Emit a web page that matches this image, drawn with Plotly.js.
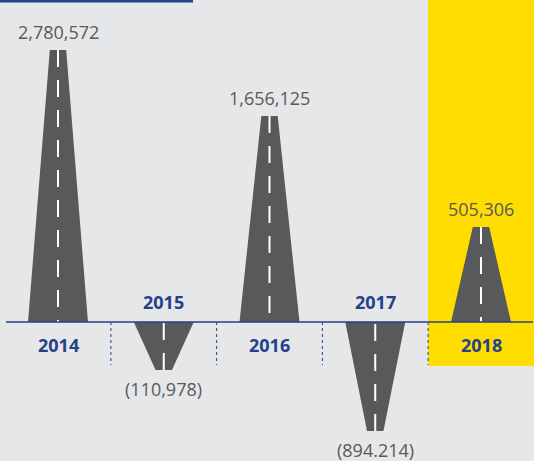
<!DOCTYPE html>
<html>
<head>
<meta charset="utf-8">
<script src="https://cdn.plot.ly/plotly-3.0.1.min.js"></script>
<style>html,body{margin:0;padding:0;background:#e6e7e8;}#chart{width:534px;height:461px;}</style>
</head>
<body>
<div id="chart"></div>
<script>
// ---- data ----
const years = ['2014', '2015', '2016', '2017', '2018'];
const values = [2780572, -110978, 1656125, -894214, 505306];
const valueLabels = ['2,780,572', '(110,978)', '1,656,125', '(894.214)', '505,306'];
// drawn road lengths (the source is not drawn to scale)
const roadLength = [272, -48, 206, -109, 95];

// ---- styles ----
const ROAD = '#58595b';
const BLUE = '#24418a';
const TEXT = '#58595b';
const YELLOW = '#ffdd00';
const BG = '#e6e7e8';
const bottomW = 0.567, topW = 0.155;

const traces = [];
years.forEach((yr, i) => {
  const h = roadLength[i];
  traces.push({
    type: 'scatter', mode: 'lines', fill: 'toself', fillcolor: ROAD,
    line: {width: 0, color: ROAD},
    x: [i - bottomW / 2, i - topW / 2, i + topW / 2, i + bottomW / 2, i - bottomW / 2],
    y: [0, h, h, 0, 0], hoverinfo: 'skip', showlegend: false
  });
  traces.push({
    type: 'scatter', mode: 'lines',
    line: {width: 2, color: '#ffffff', dash: '17px,13px'},
    x: [i, i], y: [h, 0], hoverinfo: 'skip', showlegend: false
  });
});

const shapes = [
  {type: 'rect', xref: 'x', yref: 'y', x0: 3.5, x1: 5, y0: -44, y1: 330, fillcolor: YELLOW, line: {width: 0}, layer: 'below'},
  {type: 'rect', xref: 'paper', yref: 'paper', x0: 0, x1: 193 / 534, y0: 1 - 2.5 / 461, y1: 1, fillcolor: BLUE, line: {width: 0}},
  {type: 'line', xref: 'x', yref: 'y', x0: -0.492, x1: 4.492, y0: 0, y1: 0, line: {color: BLUE, width: 1.5}}
];
[0.5, 1.5, 2.5, 3.5].forEach(x => shapes.push({
  type: 'line', xref: 'x', yref: 'y', x0: x, x1: x, y0: 0, y1: -43,
  line: {color: BLUE, width: 1, dash: 'dot'}
}));

const annotations = [];
years.forEach((yr, i) => {
  const h = roadLength[i];
  const pos = values[i] >= 0;
  annotations.push({
    x: i, y: h, xref: 'x', yref: 'y', text: valueLabels[i], showarrow: false,
    yanchor: 'middle', yshift: pos ? 18 : -19,
    font: {family: 'Open Sans', size: 18, color: TEXT}
  });
  annotations.push({
    x: i, y: 0, xref: 'x', yref: 'y', text: '<b>' + yr + '</b>', showarrow: false,
    yanchor: 'middle', yshift: pos ? -22.5 : 20,
    font: {family: 'Open Sans', size: 18, color: BLUE}
  });
});

const layout = {
  width: 534, height: 461, autosize: false,
  margin: {l: 0, r: 0, t: 0, b: 0, pad: 0},
  paper_bgcolor: BG, plot_bgcolor: BG,
  xaxis: {range: [-0.5485, 4.5012], visible: false, fixedrange: true},
  yaxis: {range: [-139, 322], visible: false, fixedrange: true},
  shapes: shapes, annotations: annotations, showlegend: false
};

Plotly.newPlot('chart', traces, layout, {staticPlot: true, displayModeBar: false});
</script>
</body>
</html>
